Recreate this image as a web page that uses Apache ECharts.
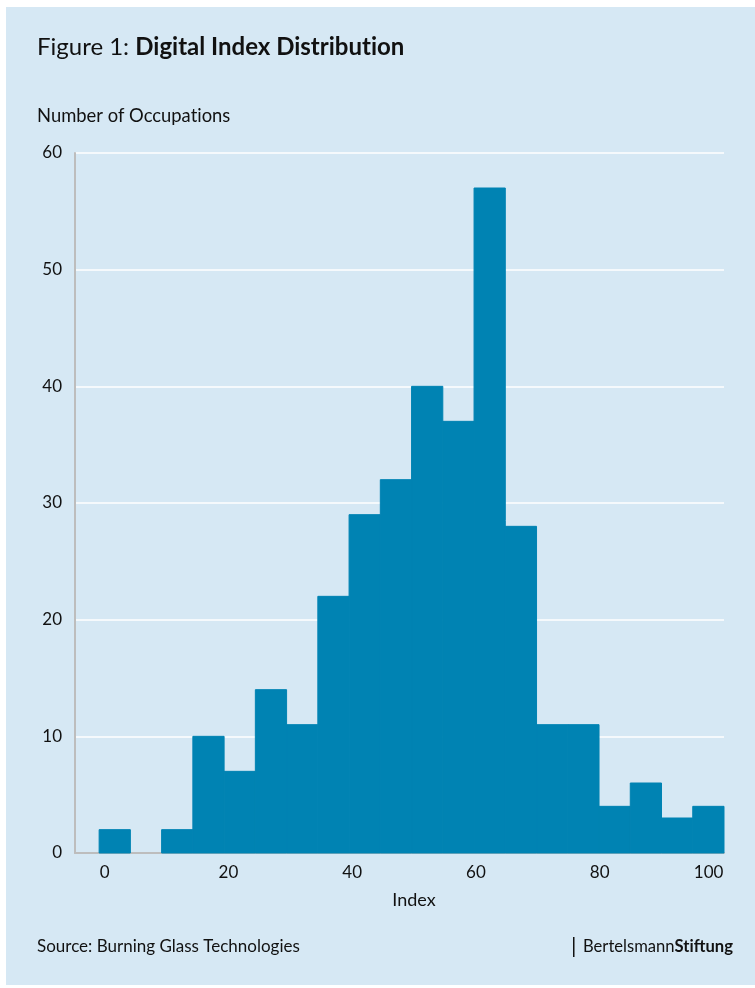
<!DOCTYPE html>
<html><head><meta charset="utf-8">
<script src="https://cdn.jsdelivr.net/npm/echarts@6/dist/echarts.min.js"></script>
<style>html,body{margin:0;padding:0;background:#fff;}#c{width:755px;height:988px;}</style>
</head><body><div id="c"></div>
<script>
// Histogram bin edges (Index) and counts (Number of Occupations)
var binEdges = [-0.9, 4.15, 9.2, 14.25, 19.3, 24.35, 29.4, 34.45, 39.5, 44.55, 49.6, 54.65, 59.7, 64.75, 69.8, 74.85, 79.9, 84.95, 90.0, 95.05, 100.1];
var counts = [2, 0, 2, 10, 7, 14, 11, 22, 29, 32, 40, 37, 57, 28, 11, 11, 4, 6, 3, 4];
var xTickValues = [0, 20, 40, 60, 80, 100];

var FONT = 'Lato, "Open Sans", sans-serif';
var ZW = '\u200C'; // prevents the Lato "ti" ligature
var data = counts.map(function (c, i) { return [binEdges[i], binEdges[i + 1], c]; });

var chart = echarts.init(document.getElementById('c'), null, {renderer: 'canvas'});
chart.setOption({
  backgroundColor: '#ffffff',
  animation: false,
  textStyle: {fontFamily: FONT},
  graphic: [
    {type: 'rect', left: 6, top: 7, shape: {width: 749, height: 978}, style: {fill: '#d6e8f4'}, z: -10},
    {type: 'text', left: 37, top: 35, style: {
      text: '{r|Figure 1: }{b|Digital Index Distribut' + ZW + 'ion}',
      rich: {
        r: {fontFamily: FONT, fontSize: 24, fill: '#111', fontWeight: 'normal'},
        b: {fontFamily: FONT, fontSize: 24, fill: '#111', fontWeight: 'bold'}
      }}},
    {type: 'text', left: 37, top: 107, style: {text: 'Number of Occupat' + ZW + 'ions', fontFamily: FONT, fontSize: 18.4, fill: '#111'}},
    {type: 'text', x: 414, y: 900, style: {text: 'Index', fontFamily: FONT, fontSize: 18, fill: '#111', align: 'center', verticalAlign: 'middle'}},
    {type: 'text', left: 37, top: 938, style: {text: 'Source: Burning Glass Technologies', fontFamily: FONT, fontSize: 17, fill: '#111'}},
    {type: 'rect', left: 573, top: 937, shape: {width: 1.5, height: 20}, style: {fill: '#111'}},
    {type: 'text', left: 583, top: 938, style: {
      text: '{r|Bertelsmann}{b|St' + ZW + 'iftung}',
      rich: {
        r: {fontFamily: FONT, fontSize: 16.6, fill: '#111'},
        b: {fontFamily: FONT, fontSize: 16.6, fill: '#111', fontWeight: 'bold'}
      }}}
  ],
  grid: {left: 75, right: 31, top: 153, bottom: 135, containLabel: false},
  xAxis: {
    type: 'value', min: -4.8, max: 100.1,
    axisLine: {show: true, onZero: false, lineStyle: {color: '#bdbdbd', width: 2}},
    axisTick: {show: false},
    splitLine: {show: false},
    axisLabel: {customValues: xTickValues, alignMaxLabel: 'right', fontFamily: FONT, fontSize: 17, color: '#111', margin: 11}
  },
  yAxis: {
    type: 'value', min: 0, max: 60, interval: 10,
    axisLine: {show: true, onZero: false, lineStyle: {color: '#bdbdbd', width: 2}},
    axisTick: {show: false},
    splitLine: {show: true, lineStyle: {color: '#ffffff', width: 1.5}},
    axisLabel: {fontFamily: FONT, fontSize: 17, color: '#111', margin: 13}
  },
  series: [{
    type: 'custom',
    data: data,
    encode: {x: [0, 1], y: 2},
    renderItem: function (params, api) {
      if (!(api.value(2) > 0)) { return null; }
      var p0 = api.coord([api.value(0), api.value(2)]);
      var p1 = api.coord([api.value(1), 0]);
      return {
        type: 'rect',
        shape: {x: p0[0], y: p0[1], width: p1[0] - p0[0], height: p1[1] - p0[1]},
        style: {fill: '#0083b3', stroke: '#0083b3', lineWidth: 1}
      };
    },
    z: 5
  }]
});
</script>
</body></html>
